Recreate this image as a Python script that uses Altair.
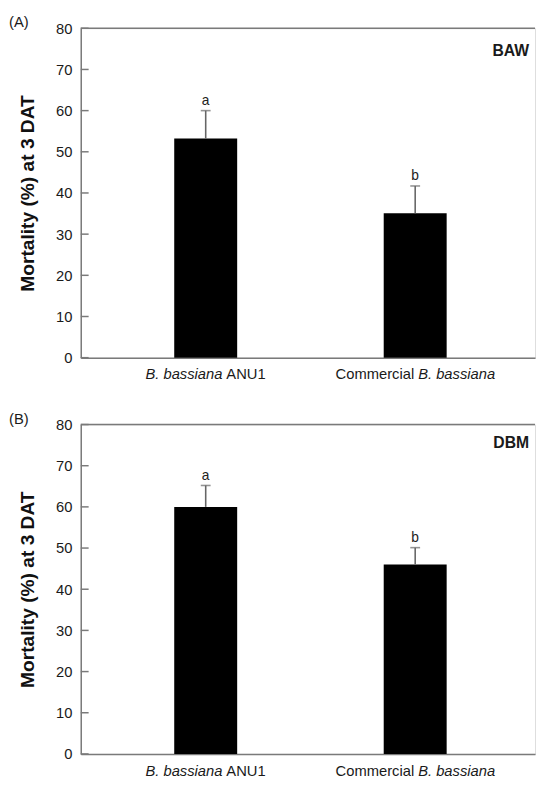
import altair as alt
import pandas as pd

# ---- data ----
treatments = ["B. bassiana ANU1", "Commercial B. bassiana"]
left_parts = ["B. bassiana", "Commercial"]      # text left of the style split
right_parts = ["ANU1", "B. bassiana"]           # text right of the style split
letters = ["a", "b"]

baw_mean = [53.2, 35.1]
baw_err = [6.8, 6.6]
dbm_mean = [60.0, 46.0]
dbm_err = [5.2, 4.1]

y_ticks = [0, 10, 20, 30, 40, 50, 60, 70, 80]
panel_tags = ["(A)", "(B)"]
pests = ["BAW", "DBM"]

W = 462
H = 335
FONT = "Liberation Sans"
AXIS_GRAY = "#7a7a7a"
ERR_GRAY = "#666666"

YSCALE = alt.Scale(domain=[0, 80], nice=False, zero=True)
YAXIS = alt.Axis(
    values=y_ticks, title="Mortality (%) at 3 DAT", ticks=False, tickSize=0,
    grid=False, labelPadding=9, titlePadding=18, domainColor=AXIS_GRAY,
    domainWidth=1.5, titleFontSize=19.5, titleFontWeight="bold",
    titleFont=FONT, titleColor="#111111", labelFont=FONT, labelFontSize=15,
    labelColor="#1a1a1a",
)
XAXIS = alt.Axis(title=None, labels=False, ticks=False, domainColor=AXIS_GRAY,
                 domainWidth=1.5)
XSCALE = alt.Scale(paddingInner=0.6995, paddingOuter=0.434, align=0.514)


def Y(field):
    return alt.Y(field, scale=YSCALE, axis=YAXIS, title="Mortality (%) at 3 DAT")


def X():
    return alt.X("treatment:N", sort=treatments, scale=XSCALE, axis=XAXIS)


def panel(tag, pest, means, errs, pest_y):
    df = pd.DataFrame({
        "treatment": treatments,
        "mean": means,
        "top": [m + e for m, e in zip(means, errs)],
        "letter": letters,
        "left_text": left_parts,
        "right_text": right_parts,
    })
    base = alt.Chart(df)

    bars = base.mark_bar(color="black").encode(x=X(), y=Y("mean:Q"))
    err = base.mark_rule(color=ERR_GRAY, strokeWidth=1.6).encode(
        x=X(), y=Y("mean:Q"), y2="top:Q")
    caps = base.mark_tick(color=ERR_GRAY, size=10, thickness=1.6).encode(
        x=X(), y=Y("top:Q"))
    lett = base.mark_text(baseline="alphabetic", dy=-6, fontSize=14, font=FONT,
                          color="#222222").encode(
        x=X(), y=Y("top:Q"), text="letter:N")

    # x labels with mixed italic / roman parts
    def lab(row, field, align, dx, style):
        return base.transform_filter(
            alt.datum.treatment == treatments[row]
        ).mark_text(align=align, baseline="middle", dx=dx, fontSize=15, font=FONT,
                    fontStyle=style, color="#1a1a1a").encode(
            x=X(), y=alt.value(H + 17), text=f"{field}:N")

    l1a = lab(0, "left_text", "right", 17, "italic")
    l1b = lab(0, "right_text", "left", 21, "normal")
    l2a = lab(1, "left_text", "right", -1, "normal")
    l2b = lab(1, "right_text", "left", 3, "italic")

    ytick_df = pd.DataFrame({"v": y_ticks})
    yt = alt.Chart(ytick_df).mark_rule(color=AXIS_GRAY, strokeWidth=1.5).encode(
        y=Y("v:Q"), x=alt.value(0), x2=alt.value(8))

    one = pd.DataFrame({"tag": [tag], "pest": [pest]})
    top_border = alt.Chart(one).mark_rule(color=AXIS_GRAY, strokeWidth=1.5).encode(
        y=alt.value(0), x=alt.value(0), x2=alt.value(W))
    tag_txt = alt.Chart(one).mark_text(align="left", baseline="middle", fontSize=15,
                                       font=FONT, color="#1a1a1a").encode(
        x=alt.value(-73), y=alt.value(-6), text="tag:N")
    pest_txt = alt.Chart(one).mark_text(align="right", baseline="middle", fontSize=16,
                                        font=FONT, fontWeight="bold",
                                        color="#1a1a1a").encode(
        x=alt.value(W - 6), y=alt.value(pest_y), text="pest:N")

    return alt.layer(bars, err, caps, lett, l1a, l1b, l2a, l2b, yt, top_border,
                     tag_txt, pest_txt).properties(width=W, height=H)


pA = panel(panel_tags[0], pests[0], baw_mean, baw_err, 23)
pB = panel(panel_tags[1], pests[1], dbm_mean, dbm_err, 19)

chart = alt.vconcat(pA, pB, spacing=28).properties(
    padding={"left": 0, "top": 0, "right": 0, "bottom": 0}
).configure_view(stroke=None).configure(background="white")

chart.save("out.html", embed_options={"renderer": "svg", "actions": False})
